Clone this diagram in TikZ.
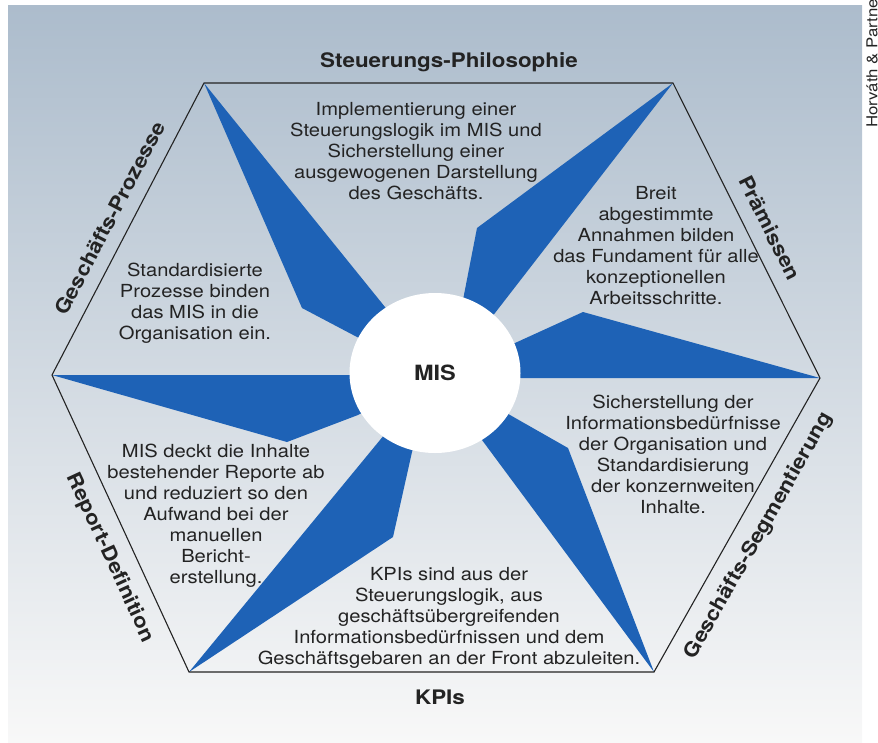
\documentclass[tikz,border=0pt]{standalone}
\usepackage{fontspec}
\setmainfont{TeX Gyre Heros}[FakeStretch=1.12]
\usepackage{tikz}
\usetikzlibrary{shapes.geometric}
\definecolor{rayblue}{RGB}{30,98,182}
\definecolor{bgtop}{RGB}{172,188,204}
\definecolor{bgmid}{RGB}{208,215,222}
\definecolor{bgbot}{RGB}{248,248,248}
\definecolor{ink}{RGB}{35,35,35}
\tikzset{
  ray/.style={ fill=rayblue }
}
\tikzset{
  hub/.style={ ellipse, fill=white, minimum width=171pt, minimum height=160pt, inner sep=0pt, text=ink, font=\fontsize{21}{24}\selectfont\bfseries }
}
\tikzset{
  side/.style={ text=ink, inner sep=0pt, font=\fontsize{20}{24}\selectfont\bfseries }
}
\tikzset{
  note/.style={ align=center, text=ink, inner sep=0pt, font=\fontsize{18}{21}\selectfont }
}

\begin{document}
\begin{tikzpicture}[x=1pt, y=-1pt]
      \useasboundingbox (0,0) rectangle (878,742);
      \shade[top color=bgtop, middle color=bgmid, bottom color=bgbot] (8,5) rectangle (862,742);

      \coordinate (tl) at (204,83);
      \coordinate (tr) at (673,83);
      \coordinate (r) at (820,378);
      \coordinate (br) at (654,672);
      \coordinate (bl) at (189,672);
      \coordinate (l) at (52,375);
      \coordinate (c) at (435,373);

      \fill[ray] (tl) -- (302,308) -- (357,337) -- (c) -- (385,307) -- cycle;
      \fill[ray] (tr) -- (495,313) -- (c) -- (462,305) -- (477,228) -- cycle;
      \fill[ray] (r) -- (520,378) -- (c) -- (515,343) -- (583,312) -- cycle;
      \fill[ray] (br) -- (482,440) -- (c) -- (510,415) -- (568,448) -- cycle;
      \fill[ray] (bl) -- (380,440) -- (c) -- (412,452) -- (393,537) -- cycle;
      \fill[ray] (l) -- (350,375) -- (c) -- (358,415) -- (287,442) -- cycle;

      \draw[ink, line width=1.1pt] (tl) -- (tr) -- (r) -- (br) -- (bl) -- (l) -- cycle;

      \node[hub] (mis) at (c) {MIS};

      \node[side] (philo) at (449,62) {Steuerungs-Philosophie};
      \node[side, rotate=-63.5] (praem) at (770,228) {Prämissen};
      \node[side, rotate=60.5] (segm) at (759,536) {Geschäfts-Segmentierung};
      \node[side] (kpi) at (440,697) {KPIs};
      \node[side, rotate=-65.2] (repdef) at (110,558) {Report-Definition};
      \node[side, rotate=62.5] (proz) at (110,218) {Geschäfts-Prozesse};

      \node[note] (philotxt) at (416,151) {Implementierung einer\\Steuerungslogik im MIS und\\Sicherstellung einer\\ausgewogenen Darstellung\\des Geschäfts.};
      \node[note] (praemtxt) at (656,246) {Breit\\abgestimmte\\Annahmen bilden\\das Fundament für alle\\konzeptionellen\\Arbeitsschritte.};
      \node[note] (proztxt) at (195,303) {Standardisierte\\Prozesse binden\\das MIS in die\\Organisation ein.};
      \node[note] (segmtxt) at (673,454) {Sicherstellung der\\Informationsbedürfnisse\\der Organisation und\\Standardisierung\\der konzernweiten\\Inhalte.};
      \node[note] (repdeftxt) at (216,516) {MIS deckt die Inhalte\\bestehender Reporte ab\\und reduziert so den\\Aufwand bei der\\manuellen\\Bericht-\\erstellung.};
      \node[note] (kpitxt) at (449,618) {KPIs sind aus der\\Steuerungslogik, aus\\geschäftsübergreifenden\\Informationsbedürfnissen und dem\\Geschäftsgebaren an der Front abzuleiten.};

      \node[text=ink, rotate=90, anchor=west, inner sep=0pt, font=\fontsize{15}{17}\selectfont] (credit) at (872,128) {Horváth \& Partners};
    \end{tikzpicture}
\end{document}
